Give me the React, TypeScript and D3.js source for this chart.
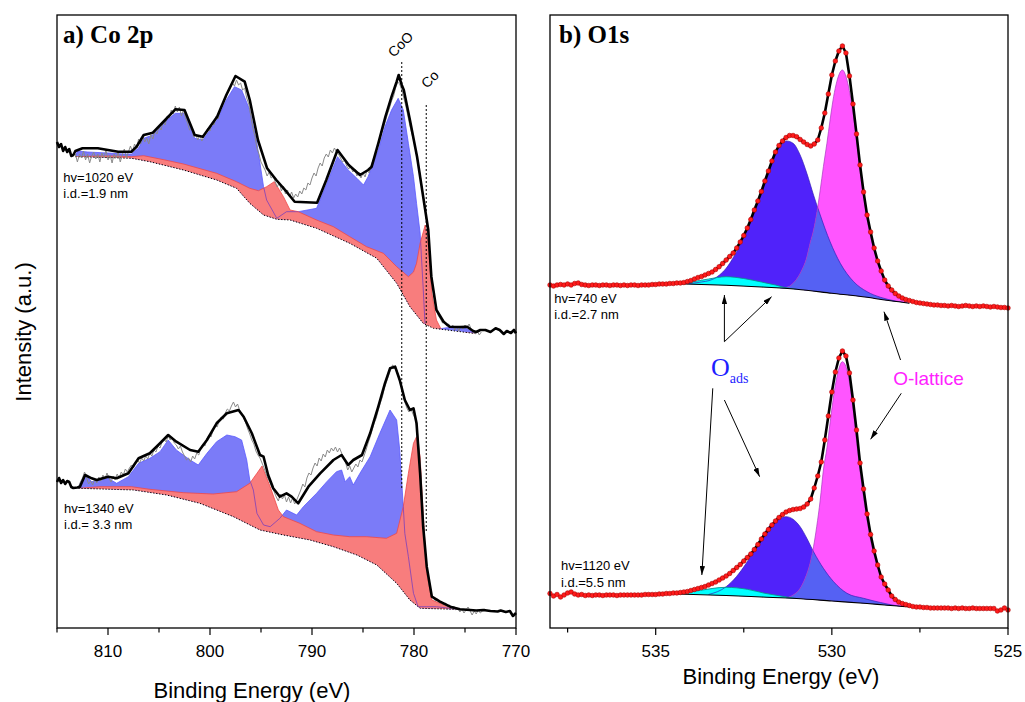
import React from 'react';
import * as d3 from 'd3';

type P = [number, number];

// ---------------- Co 2p (panel a) : [binding energy eV, intensity a.u.] ----------------
const CO_TOP_SMOOTH: P[] = [
  [815.0, 486], [814.8, 481], [814.6, 484], [814.4, 477], [814.2, 481], [814.0, 476], [813.8, 479], [813.6, 472], [813.4, 473], [813.2, 477],
  [812.5, 479.7], [811, 479.7], [810, 478], [809, 476.3], [807.7, 476.3], [807.2, 481.3], [806.5, 493], [805.6, 495.3], [804.4, 508], [803.4, 518.7],
  [802.5, 518], [801.5, 493], [800.7, 491.3], [799.3, 511.3], [798.4, 533], [797.5, 552], [796.6, 546.3], [796.1, 528], [795.3, 488], [794.4, 459.7],
  [793.5, 448], [792.5, 436.3], [791.7, 426.3], [789.5, 425.3], [788.6, 448], [787.5, 478], [786.4, 463], [785.3, 453], [784.5, 458], [784.15, 461.3],
  [783.5, 484.7], [782.8, 511.3], [782.2, 531.3], [781.7, 546.3], [781.5, 553], [781.2, 543], [781.0, 538], [780.4, 508], [779.7, 471.3], [779.1, 431.3],
  [778.6, 398], [778.3, 351.3], [777.8, 318], [777.1, 306.3], [776.5, 301.3], [775.5, 301], [774.8, 301.3], [774.2, 297], [773.9, 296], [773.5, 298],
  [773.0, 298], [772.5, 296], [772.0, 299.7], [771.6, 298], [771.2, 294], [770.9, 297], [770.5, 295], [770.2, 298], [770.0, 294.7],
];
const CO_TOP_RAW: P[] = [
  [813.2, 474], [813.0, 466], [812.8, 474], [812.6, 470], [812.4, 477], [812.2, 468], [812.0, 474], [811.8, 465], [811.6, 472], [811.4, 476],
  [811.2, 469], [811.0, 474], [810.8, 466], [810.6, 475], [810.4, 470], [810.2, 478], [810.0, 468], [809.8, 473], [809.6, 465], [809.4, 474],
  [809.2, 470], [809.0, 476], [808.8, 466], [808.6, 473], [808.4, 479], [808.2, 470], [808.0, 476], [807.8, 482], [807.6, 476], [807.4, 484],
  [807.2, 480], [807.0, 489], [806.8, 484], [806.6, 492], [806.4, 486], [806.2, 490], [806.0, 484], [805.8, 493], [805.6, 489], [805.4, 497],
  [805.2, 494], [805.0, 501], [804.8, 498], [804.6, 506], [804.4, 503], [804.2, 512], [804.0, 510], [803.8, 518], [803.6, 514], [803.4, 522],
  [803.2, 516], [803.0, 521], [802.8, 512], [802.6, 518], [802.4, 510], [802.2, 505], [802.0, 498], [801.8, 500], [801.6, 491], [801.4, 494],
  [801.2, 488], [801.0, 493], [800.8, 487], [800.6, 492], [800.4, 496], [800.2, 500], [800.0, 497], [799.8, 505], [799.6, 503], [799.4, 512],
  [799.2, 509], [799.0, 518], [798.8, 522], [798.6, 527], [798.4, 532], [798.2, 536], [798.0, 540], [797.8, 545], [797.6, 542], [797.4, 548],
  [797.2, 543], [797.0, 545], [796.8, 538], [796.6, 540], [796.4, 530], [796.2, 524], [796.0, 512], [795.8, 500], [795.6, 492], [795.4, 480],
  [795.2, 474], [795.0, 466], [794.8, 462], [794.6, 458], [794.4, 452], [794.2, 456], [794.0, 450], [793.8, 452], [793.6, 446], [793.4, 441],
  [793.2, 446], [793.0, 437], [792.8, 442], [792.6, 434], [792.4, 438], [792.2, 431], [792.0, 436], [791.8, 430], [791.6, 434], [791.4, 431],
  [791.2, 437], [791.0, 434], [790.8, 440], [790.6, 438], [790.4, 445], [790.2, 443], [790.0, 450], [789.8, 455], [789.6, 452], [789.4, 460],
  [789.2, 465], [789.0, 462], [788.8, 470], [788.6, 474], [788.4, 471], [788.2, 478], [788.0, 475], [787.8, 480], [787.6, 476], [787.4, 474],
  [787.2, 470], [787.0, 466], [786.8, 468], [786.6, 462], [786.4, 459], [786.2, 462], [786.0, 456], [785.8, 459], [785.6, 452], [785.4, 456],
  [785.2, 450], [785.0, 455], [784.8, 451], [784.6, 458], [784.4, 455], [784.2, 463], [784.0, 468], [783.8, 474], [783.6, 480], [783.4, 486],
  [783.2, 494], [783.0, 500], [782.8, 507], [782.6, 514], [782.4, 520], [782.2, 527], [782.0, 532], [781.8, 540], [781.6, 546], [781.4, 544],
  [781.2, 538], [781.0, 530], [780.8, 522], [780.6, 512], [780.4, 502], [780.0, 486], [779.6, 466], [779.2, 440], [778.8, 410], [778.4, 365],
  [778.2, 345], [778.0, 330], [777.8, 318], [777.6, 312], [777.4, 309], [777.2, 305], [777.0, 306], [776.8, 302], [776.6, 304], [776.4, 300],
  [776.2, 303], [776.0, 298], [775.8, 301], [775.6, 297], [775.4, 302], [775.2, 299], [775.0, 303], [774.8, 300], [774.6, 304], [774.4, 299],
  [774.2, 296], [774.0, 294], [773.8, 297], [773.6, 293], [773.4, 296],
];
const CO_TOP_COO: P[] = [
  [813.2, 472], [813.0, 477], [812.0, 476], [810.0, 475], [808.5, 474], [807.7, 474], [807.0, 480], [806.5, 489.7], [805.6, 493], [804.4, 506.3],
  [803.4, 514.7], [802.5, 514.7], [801.5, 489.7], [800.7, 488], [799.3, 508], [798.4, 528], [797.6, 541.3], [796.9, 538], [796.1, 518], [795.4, 484.7],
  [794.75, 441.3], [794.45, 428], [793.45, 409.7], [792.5, 416.3], [791.35, 416.3], [789.55, 419.7], [788.55, 444.7], [787.5, 471.3], [786.45, 458], [785.6, 449.7],
  [784.95, 443], [784.5, 451.3], [783.5, 478], [782.85, 501.3], [782.2, 518], [781.55, 529.7], [781.05, 518], [780.55, 484.7], [780.05, 451.3], [779.75, 424.7],
  [779.4, 395], [779.1, 340], [778.9, 300], [778.0, 298], [777.0, 300], [776.0, 301], [775.0, 300], [774.2, 296], [773.9, 295],
];
const CO_TOP_CO: P[] = [
  [813.2, 471.3], [811, 472], [809.5, 472], [807.7, 471.3], [806.5, 472.3], [804.4, 468], [802.6, 464], [799.35, 454.7], [797.4, 446.3], [796.1, 439.7],
  [795.25, 437.3], [794.45, 441.3], [793.7, 446.3], [792.8, 431.3], [792.15, 418], [791.35, 416.3], [789.55, 408], [787.9, 401.3], [786.3, 391.3], [784.65, 381.3],
  [783.0, 374.7], [781.7, 361.3], [780.55, 351.3], [780.05, 356], [779.75, 364.7], [779.4, 384.7], [778.9, 403], [778.6, 384.7], [778.25, 334.7], [777.8, 308],
  [777.3, 298], [776.45, 296.3], [774.2, 294.7], [773.9, 294.5],
];
const CO_TOP_BG: P[] = [
  [813.2, 471.3], [807.7, 469.7], [805.9, 466.3], [802.6, 458], [799.35, 448], [797.4, 439.7], [796.1, 424.7], [794.75, 413], [793.45, 408.7], [792.15, 408],
  [789.55, 399.7], [786.3, 384.7], [783.65, 369.7], [781.7, 344.7], [780.4, 321.3], [779.1, 304.7], [778.1, 299.7], [774.2, 294.7], [773.9, 294.5],
];

const CO_BOT_SMOOTH: P[] = [
  [815.0, 146], [814.8, 150], [814.6, 145], [814.4, 148], [814.2, 144], [814.0, 147], [813.8, 146], [813.6, 141], [813.4, 140], [813.0, 140.5],
  [812.75, 141.3], [812.25, 153], [811.6, 149.7], [811.1, 148], [810.0, 151.3], [809.15, 149.7], [808.0, 154.7], [807.0, 169.7], [805.9, 174.7], [804.9, 184.7],
  [804.1, 193], [803.3, 186.3], [801.95, 178], [801.15, 176.3], [800.3, 188], [799.35, 204.7], [798.35, 214.7], [797.2, 218], [796.7, 211.3], [795.9, 194.7],
  [795.1, 173], [794.75, 171.3], [794.3, 153], [793.8, 139.7], [793.15, 131.3], [792.5, 134.7], [792.0, 131.3], [791.35, 124.7], [790.35, 141.3], [789.2, 154.7],
  [787.9, 168], [787.1, 173], [786.45, 163], [785.95, 168], [785.1, 173], [784.3, 194.7], [783.5, 221.3], [782.85, 244.7], [782.35, 259.7], [781.85, 261.3],
  [781.4, 248], [780.9, 228], [780.4, 218], [780.05, 219.7], [779.75, 204.7], [779.4, 154.7], [779.1, 101.3], [778.75, 61.3], [778.25, 31.3], [777.45, 26.3],
  [776.45, 21.3], [775.5, 18.7], [774.5, 18], [773.9, 17.5], [773.2, 18], [772.5, 17], [771.8, 16.5], [771.5, 17.5], [771.0, 16], [770.6, 17],
  [770.3, 12], [770.0, 15],
];
const CO_BOT_RAW: P[] = [
  [812.9, 141], [812.7, 146], [812.5, 150], [812.3, 156], [812.1, 150], [811.9, 144], [811.7, 147], [811.5, 143], [811.3, 149], [811.1, 145],
  [810.9, 151], [810.7, 147], [810.5, 153], [810.3, 149], [810.1, 155], [809.9, 150], [809.7, 146], [809.5, 152], [809.3, 148], [809.1, 154],
  [808.9, 150], [808.7, 156], [808.5, 153], [808.3, 159], [808.1, 156], [807.9, 160], [807.7, 163], [807.5, 160], [807.3, 166], [807.1, 168],
  [806.9, 165], [806.7, 170], [806.5, 167], [806.3, 172], [806.1, 169], [805.9, 175], [805.7, 172], [805.5, 178], [805.3, 176], [805.1, 182],
  [804.9, 180], [804.7, 186], [804.5, 189], [804.3, 186], [804.1, 192], [803.9, 188], [803.7, 191], [803.5, 185], [803.3, 183], [803.1, 179],
  [802.9, 182], [802.7, 176], [802.5, 172], [802.3, 168], [802.1, 170], [801.9, 166], [801.7, 172], [801.5, 169], [801.3, 175], [801.1, 173],
  [800.9, 180], [800.7, 184], [800.5, 182], [800.3, 189], [800.1, 193], [799.9, 191], [799.7, 198], [799.5, 203], [799.3, 201], [799.1, 207],
  [798.9, 211], [798.7, 209], [798.5, 215], [798.3, 219], [798.1, 217], [797.9, 222], [797.7, 226], [797.5, 221], [797.3, 224], [797.1, 218],
  [796.9, 214], [796.7, 210], [796.5, 205], [796.3, 199], [796.1, 194], [795.9, 188], [795.7, 184], [795.5, 177], [795.3, 173], [795.1, 170],
  [794.9, 165], [794.7, 160], [794.5, 154], [794.3, 149], [794.1, 145], [793.9, 140], [793.7, 136], [793.5, 131], [793.3, 127], [793.1, 134],
  [792.9, 129], [792.7, 133], [792.5, 126], [792.3, 131], [792.1, 125], [791.9, 130], [791.7, 124], [791.5, 128], [791.3, 133], [791.1, 138],
  [790.9, 144], [790.7, 141], [790.5, 150], [790.3, 155], [790.1, 153], [789.9, 160], [789.7, 165], [789.5, 162], [789.3, 170], [789.1, 167],
  [788.9, 174], [788.7, 171], [788.5, 178], [788.3, 175], [788.1, 180], [787.9, 177], [787.7, 181], [787.5, 176], [787.3, 180], [787.1, 175],
  [786.9, 170], [786.7, 165], [786.5, 158], [786.3, 162], [786.1, 156], [785.9, 160], [785.7, 164], [785.5, 161], [785.3, 168], [785.1, 166],
  [784.9, 172], [784.7, 178], [784.5, 185], [784.3, 191], [784.1, 198], [783.9, 205], [783.7, 210], [783.5, 218], [783.3, 225], [783.1, 231],
  [782.9, 240], [782.7, 246], [782.5, 252], [782.3, 258], [782.1, 263], [781.9, 261], [781.7, 258], [781.5, 250], [781.3, 243], [781.1, 236],
  [780.9, 226], [780.7, 220], [780.5, 216], [780.3, 219], [780.1, 214], [779.9, 210], [779.7, 200], [779.5, 178], [779.3, 148], [779.1, 105],
  [778.9, 78], [778.7, 56], [778.5, 42], [778.3, 33], [778.1, 30], [777.9, 27], [777.7, 29], [777.5, 25], [777.3, 26], [777.1, 23],
  [776.9, 25], [776.7, 21], [776.5, 23], [776.3, 19], [776.1, 22], [775.9, 18], [775.7, 20], [775.5, 16], [775.3, 19], [775.1, 15],
  [774.9, 18], [774.7, 21], [774.5, 17], [774.3, 13], [774.1, 17], [773.9, 14], [773.7, 18], [773.5, 15], [773.3, 17], [773.1, 19],
];
const CO_BOT_COO: P[] = [
  [812.9, 141.3], [812.25, 153], [811.6, 146.3], [810.0, 149.7], [809.15, 144.7], [808.0, 151.3], [807.0, 164.7], [805.9, 169.7], [804.9, 176.3], [804.1, 188],
  [803.3, 178], [801.95, 168], [801.15, 163], [800.3, 174.7], [799.35, 186.3], [798.35, 193], [797.55, 191.3], [796.9, 188], [796.4, 168], [796.1, 148],
  [795.75, 138], [795.4, 114.7], [794.75, 103], [794.1, 101.3], [793.15, 109.7], [792.5, 118], [791.5, 113], [790.85, 121.3], [789.55, 134.7], [788.55, 146.3],
  [787.6, 156.3], [787.1, 158], [786.75, 146.3], [786.3, 151.3], [785.95, 143], [785.3, 154.7], [784.3, 171.3], [783.35, 194.7], [782.35, 218], [781.7, 208],
  [781.4, 178], [781.05, 121.3], [780.9, 94.7], [780.55, 71.3], [780.05, 34.7], [779.6, 21.3], [778.75, 21.3], [777.8, 21.3], [776.5, 19.7], [775.5, 18.7],
];
const CO_BOT_CO: P[] = [
  [812.9, 139.7], [810.8, 141.3], [807.7, 141.3], [805.9, 138.7], [802.6, 135.3], [799.7, 134], [797.4, 136.3], [796.1, 144.7], [795.4, 154.7], [794.9, 162],
  [794.1, 141.3], [793.3, 118], [792.8, 111.3], [791.2, 104.7], [789.55, 96.3], [787.9, 93], [786.3, 91.3], [784.65, 91.3], [782.7, 89.7], [781.7, 94.7],
  [781.05, 121.3], [780.55, 154.7], [780.05, 184.7], [779.75, 191.3], [779.4, 171.3], [779.1, 114.7], [778.75, 54.7], [778.25, 28], [777.45, 24.7], [776.45, 21.3],
  [775.5, 18.7],
];
const CO_BOT_BG: P[] = [
  [812.9, 139.7], [807.5, 138], [804.25, 133], [801.0, 124.7], [797.7, 111.3], [795.1, 98], [792.8, 93], [790.2, 88], [787.9, 81.3], [785.6, 73],
  [783.65, 63], [781.7, 44.7], [780.4, 28], [779.4, 19.7], [775.5, 18.5],
];

// reference lines for CoO / Co
const CO_REFS = [
  { name: 'CoO', energy: 781.2, top: 566, bottom: 138, labelE: 781.98, labelI: 570 },
  { name: 'Co', energy: 778.8, top: 523, bottom: 96, labelE: 778.72, labelI: 539 },
];
const CO_NOTES = [
  { e: 814.38, i: 446.3, lines: ['hv=1020 eV', 'i.d.=1.9 nm'] },
  { e: 814.31, i: 115.3, lines: ['hv=1340 eV', 'i.d.= 3.3 nm'] },
];
const CO_MAJOR = [810, 800, 790, 780, 770];
const CO_MINOR = [815, 805, 795, 785, 775];

// ---------------- O 1s (panel b) ----------------
const O_E_START = 538.0;
const O_E_STEP = 0.1;
const O_TOP_INT = [
  343, 342, 343, 343.5, 343, 344, 343, 344.5, 345, 343.5,
  343, 342.5, 343, 343, 342.5, 343, 343, 342.5, 343, 343,
  342.5, 343, 342.5, 343, 343, 342.5, 343, 343, 343, 343.5,
  343.5, 344, 344, 344, 344.5, 344.5, 345, 345, 345.5, 346.5,
  347.5, 349, 350.5, 351.5, 353, 354.5, 356, 358.5, 361.3, 364.5,
  368, 371.5, 375, 380, 386, 392.5, 400, 408.5, 418, 427,
  436.5, 447, 457, 467, 476, 482.5, 487, 490.5, 492.5, 492.5,
  491.3, 488.5, 486, 483.5, 482, 484, 488, 500, 515, 534,
  553, 567, 577, 582, 575, 552, 524, 494, 463, 436,
  413, 396, 380, 367, 357, 348, 342, 338, 334.5, 332,
  330, 328.5, 327.5, 326.5, 325.5, 325, 324.5, 324, 323.5, 323,
  323, 322.5, 322.5, 322, 322.5, 322, 321.5, 322, 322.5, 322,
  321.5, 322, 321.5, 322, 321.5, 321, 321.5, 321, 320.5, 320.5,
  320,
];
const O_BOT_INT = [
  34.5, 32, 33.5, 31, 33, 35, 36, 34, 33, 33.5,
  32.5, 33, 32.5, 33, 33, 32.5, 33, 33, 33, 32.5,
  33, 33, 33, 33, 33, 33, 33, 33.5, 33.5, 33.5,
  33.5, 34, 34, 34.5, 34.5, 35, 35, 35.5, 36, 36.5,
  37.5, 38.5, 39.5, 40.5, 41.5, 43, 44.5, 46, 48, 50,
  52, 54.5, 57.5, 60.5, 63.5, 67, 70.5, 74, 78.5, 83.5,
  89, 94, 98.5, 103, 107, 110.5, 113.5, 116, 117.5, 118.5,
  119, 119.5, 121, 124, 129, 140, 152, 166, 188, 212,
  236, 256, 270, 277, 272, 255, 228, 198, 165, 139,
  114, 93.5, 77, 63, 51, 44, 38, 32, 28.5, 26,
  24.5, 23.5, 22.5, 21.5, 21, 21, 20.5, 20.5, 20, 20,
  20, 20, 20, 20, 19.5, 20, 19.5, 20, 19.5, 19.5,
  20, 19.5, 19.5, 19.5, 19.5, 19.5, 19.5, 17, 18, 20,
  18,
];
const O_TOP_BG: P[] = [[534.4, 344.3], [533.0, 342.7], [532.0, 341], [531.0, 338.7], [530.0, 334.7], [529.0, 330.7], [528.5, 328], [528.0, 325.7], [527.8, 324.7]];
const O_TOP_C: P[] = [[534.4, 344.3], [534.0, 346], [533.5, 349], [533.0, 351.3], [532.5, 349.5], [532.0, 346], [531.6, 343], [531.2, 339.5], [531.0, 338.7]];
const O_TOP_B: P[] = [
  [534.2, 344], [533.8, 345.5], [533.38, 348.7], [533.19, 353], [533.0, 359.7], [532.81, 369.7], [532.62, 382], [532.43, 396.3], [532.24, 413], [532.05, 431.3],
  [531.86, 449.7], [531.67, 468], [531.48, 481.3], [531.29, 487], [531.1, 484.7], [530.9, 473], [530.71, 454.7], [530.52, 433], [530.33, 413], [530.05, 386.3],
  [529.76, 364.7], [529.38, 346.3], [529.0, 336.3], [528.62, 330.7], [528.2, 327], [527.8, 324.7],
];
const O_TOP_M: P[] = [
  [531.6, 339.5], [531.29, 340.7], [531.1, 344.7], [530.9, 354.7], [530.71, 371.3], [530.62, 384.7], [530.52, 398], [530.43, 414.7], [530.33, 438], [530.24, 461.3],
  [530.14, 484.7], [530.05, 508], [529.95, 531.3], [529.86, 546.3], [529.7, 558], [529.57, 548], [529.48, 533], [529.38, 511.3], [529.29, 486.3], [529.19, 458],
  [529.1, 434], [529.0, 409], [528.86, 386], [528.71, 368], [528.52, 349], [528.33, 338], [528.05, 329.5], [527.86, 325.5],
];
const O_BOT_BG: P[] = [[534.4, 34], [533.0, 32.5], [532.0, 31], [531.0, 29.5], [530.0, 27], [529.0, 24.5], [528.5, 23], [528.0, 21.5], [527.7, 21]];
const O_BOT_C: P[] = [[534.4, 34], [533.8, 37.3], [533.0, 40.7], [532.4, 38.7], [531.9, 34.7], [531.5, 32.3], [531.2, 30.5], [531.0, 29.5]];
const O_BOT_B: P[] = [
  [533.5, 33.5], [533.0, 41.3], [532.71, 51.3], [532.43, 64.7], [532.14, 81.3], [531.86, 98], [531.57, 108], [531.3, 111.3], [531.1, 108.7], [530.9, 101.3],
  [530.71, 89.7], [530.52, 76.3], [530.24, 59.7], [529.95, 46.3], [529.57, 34.7], [529.1, 29.7], [528.62, 25.5], [528.0, 21.5], [527.7, 21],
];
const O_BOT_M: P[] = [
  [531.3, 30], [531.1, 33], [530.9, 39.7], [530.76, 49.7], [530.62, 64.7], [530.52, 81.3], [530.43, 101.3], [530.33, 128], [530.24, 158], [530.14, 180],
  [530.05, 205], [529.95, 232], [529.85, 252], [529.7, 266.3], [529.57, 258], [529.48, 241.3], [529.38, 214.7], [529.29, 184.7], [529.19, 154.7], [529.1, 131.3],
  [529.0, 108], [528.9, 88], [528.76, 68], [528.62, 53], [528.43, 39.7], [528.24, 29.7], [527.95, 23], [527.7, 21],
];
const O_ARROWS: { from: P; to: P }[] = [
  { from: [533.05, 286.3], to: [533.05, 333] },
  { from: [533.05, 286.3], to: [531.71, 331.3] },
  { from: [528.05, 268], to: [528.52, 316.3] },
  { from: [533.38, 239.7], to: [533.69, 53] },
  { from: [533.05, 228], to: [532.05, 151.3] },
  { from: [528.03, 234.7], to: [528.9, 188.7] },
];
const O_NOTES = [
  { e: 537.88, i: 325.5, lines: ['hv=740 eV', 'i.d.=2.7 nm'] },
  { e: 537.69, i: 58, lines: ['hv=1120 eV', 'i.d.=5.5 nm'] },
];
const O_MAJOR = [535, 530, 525];
const O_MINOR = [537.5, 532.5, 527.5];

// ---------------- layout ----------------
const W = 1025, H = 702;
const PA = { l: 57, r: 516, t: 15, b: 628 };
const PB = { l: 550, r: 1008, t: 15, b: 628 };
const xA = d3.scaleLinear().domain([815, 770]).range([PA.l, PA.r]);
const yA = d3.scaleLinear().domain([0, 613]).range([PA.b, PA.t]);
const xB = d3.scaleLinear().domain([538, 525]).range([PB.l, PB.r]);
const yB = d3.scaleLinear().domain([0, 613]).range([PB.b, PB.t]);

const SANS = '"Liberation Sans", Arial, Helvetica, sans-serif';
const SERIF = '"Liberation Serif", "Times New Roman", Times, serif';

type Sc = d3.ScaleLinear<number, number>;
const mkLine = (x: Sc, y: Sc, curve: d3.CurveFactory = d3.curveLinear) => (d: P[]) =>
  d3.line<P>().x(p => x(p[0])).y(p => y(p[1])).curve(curve)(d) || '';
const mkAreaDown = (x: Sc, y: Sc, bottom: number, curve: d3.CurveFactory = d3.curveLinear) => (d: P[]) =>
  d3.area<P>().x(p => x(p[0])).y0(bottom).y1(p => y(p[1])).curve(curve)(d) || '';
const mkAreaUp = (x: Sc, y: Sc, top: number, curve: d3.CurveFactory = d3.curveLinear) => (d: P[]) =>
  d3.area<P>().x(p => x(p[0])).y0(p => y(p[1])).y1(top).curve(curve)(d) || '';

function CoSpectrum({ id, raw, smooth, coo, co, bg }: { id: string; raw: P[]; smooth: P[]; coo: P[]; co: P[]; bg: P[] }) {
  const line = mkLine(xA, yA);
  const down = mkAreaDown(xA, yA, PA.b);
  const up = mkAreaUp(xA, yA, PA.t);
  return (
    <g>
      <defs>
        <clipPath id={`${id}-above`}><path d={up(bg)} /></clipPath>
        <clipPath id={`${id}-co`}><path d={down(co)} /></clipPath>
      </defs>
      <g clipPath={`url(#${id}-above)`}>
        <path d={down(coo)} fill="#7b7bf8" />
        <path d={line(coo)} fill="none" stroke="#5a5aff" strokeWidth={0.8} />
        <path d={down(co)} fill="#f87d7d" />
        <path d={line(co)} fill="none" stroke="#f04848" strokeWidth={0.8} />
        <g clipPath={`url(#${id}-co)`}>
          <path d={line(coo)} fill="none" stroke="#8a46b4" strokeWidth={0.9} />
        </g>
      </g>
      <path d={line(bg)} fill="none" stroke="#000" strokeWidth={1} strokeDasharray="1.3,1.7" />
      <path d={line(raw)} fill="none" stroke="#8a8a8a" strokeWidth={1} />
      <path d={line(smooth)} fill="none" stroke="#000" strokeWidth={2.6} strokeLinejoin="round" />
    </g>
  );
}

function OSpectrum({ id, ints, bg, c, b, m }: { id: string; ints: number[]; bg: P[]; c: P[]; b: P[]; m: P[] }) {
  const curve = d3.curveMonotoneX;
  const line = mkLine(xB, yB, curve);
  const down = mkAreaDown(xB, yB, PB.b, curve);
  const up = mkAreaUp(xB, yB, PB.t, curve);
  const pts: P[] = ints.map((v, i) => [+(O_E_START - i * O_E_STEP).toFixed(2), v]);
  const env = pts.filter(p => p[0] <= 533.7 && p[0] >= 527.9);
  return (
    <g>
      <defs>
        <clipPath id={`${id}-above`}><path d={up(bg)} /></clipPath>
        <clipPath id={`${id}-m`}><path d={down(m)} /></clipPath>
      </defs>
      <g clipPath={`url(#${id}-above)`}>
        <path d={down(b)} fill="#5022fa" />
        <path d={down(m)} fill="#ff55ff" />
        <g clipPath={`url(#${id}-m)`}>
          <path d={down(b)} fill="#5561f3" />
        </g>
        <path d={down(c)} fill="#00ffff" />
        <path d={line(b)} fill="none" stroke="#3520b8" strokeWidth={0.7} />
        <path d={line(m)} fill="none" stroke="#a838c0" strokeWidth={0.7} />
        <path d={line(c)} fill="none" stroke="#0b8f8f" strokeWidth={0.9} />
      </g>
      <path d={line(bg)} fill="none" stroke="#000" strokeWidth={1.1} />
      <path d={mkLine(xB, yB)(env)} fill="none" stroke="#000" strokeWidth={2.6} strokeLinejoin="round" />
      {pts.map((p, i) => (
        <circle key={i} cx={xB(p[0])} cy={yB(p[1])} r={2.3} fill="#ff1c1c" stroke="#b00000" strokeWidth={0.6} />
      ))}
    </g>
  );
}

function Frame({ p, x, major, minor }: { p: typeof PA; x: Sc; major: number[]; minor: number[] }) {
  return (
    <g>
      <rect x={p.l} y={p.t} width={p.r - p.l} height={p.b - p.t} fill="none" stroke="#000" strokeWidth={1.3} />
      {major.map(v => (
        <g key={'M' + v}>
          <line x1={x(v)} x2={x(v)} y1={p.b} y2={p.b + 7} stroke="#000" strokeWidth={1.2} />
          <text x={x(v)} y={p.b + 29} textAnchor="middle" fontFamily={SANS} fontSize={17} fill="#000">{v}</text>
        </g>
      ))}
      {minor.map(v => (
        <line key={'m' + v} x1={x(v)} x2={x(v)} y1={p.b} y2={p.b + 4.5} stroke="#000" strokeWidth={1.2} />
      ))}
    </g>
  );
}

function Notes({ notes, x, y }: { notes: { e: number; i: number; lines: string[] }[]; x: Sc; y: Sc }) {
  return (
    <g>
      {notes.map((n, k) => (
        <text key={k} fontFamily={SANS} fontSize={13} fill="#000">
          {n.lines.map((t, j) => (
            <tspan key={j} x={x(n.e)} y={y(n.i) + j * 16.6}>{t}</tspan>
          ))}
        </text>
      ))}
    </g>
  );
}

export default function App() {
  return (
    <div style={{ position: 'absolute', left: 0, top: 0, width: W, height: H, background: '#fff' }}>
      <svg width={W} height={H} viewBox={`0 0 ${W} ${H}`} style={{ display: 'block' }}>
        <defs>
          <marker id="arrowHead" viewBox="0 0 10 6" refX={10} refY={3} markerWidth={9} markerHeight={5.4} markerUnits="userSpaceOnUse" orient="auto">
            <path d="M0,0 L10,3 L0,6 z" fill="#000" />
          </marker>
        </defs>
        <rect x={0} y={0} width={W} height={H} fill="#fff" />

        {/* ---------- panel a ---------- */}
        <CoSpectrum id="coTop" raw={CO_TOP_RAW} smooth={CO_TOP_SMOOTH} coo={CO_TOP_COO} co={CO_TOP_CO} bg={CO_TOP_BG} />
        <CoSpectrum id="coBot" raw={CO_BOT_RAW} smooth={CO_BOT_SMOOTH} coo={CO_BOT_COO} co={CO_BOT_CO} bg={CO_BOT_BG} />
        {CO_REFS.map(r => (
          <g key={r.name}>
            <line x1={xA(r.energy)} x2={xA(r.energy)} y1={yA(r.top)} y2={yA(r.bottom)} stroke="#000" strokeWidth={1} strokeDasharray="2,2" />
            <text transform={`translate(${xA(r.labelE)},${yA(r.labelI)}) rotate(-45)`} fontFamily={SANS} fontSize={14} fill="#000">{r.name}</text>
          </g>
        ))}
        <Notes notes={CO_NOTES} x={xA} y={yA} />
        <Frame p={PA} x={xA} major={CO_MAJOR} minor={CO_MINOR} />
        <text x={63} y={43} fontFamily={SERIF} fontWeight="bold" fontSize={25} fill="#000">a) Co 2p</text>

        {/* ---------- panel b ---------- */}
        <OSpectrum id="oTop" ints={O_TOP_INT} bg={O_TOP_BG} c={O_TOP_C} b={O_TOP_B} m={O_TOP_M} />
        <OSpectrum id="oBot" ints={O_BOT_INT} bg={O_BOT_BG} c={O_BOT_C} b={O_BOT_B} m={O_BOT_M} />
        {O_ARROWS.map((a, k) => (
          <line key={k} x1={xB(a.from[0])} y1={yB(a.from[1])} x2={xB(a.to[0])} y2={yB(a.to[1])} stroke="#000" strokeWidth={1} markerEnd="url(#arrowHead)" />
        ))}
        <text x={xB(533.43)} y={yB(252.5)} fontFamily={SERIF} fill="#1e1eff">
          <tspan fontSize={26}>O</tspan>
          <tspan fontSize={14} dy={7.5}>ads</tspan>
        </text>
        <text x={xB(528.26)} y={yB(243)} fontFamily={SANS} fontSize={19} fill="#ff22ff">O-lattice</text>
        <Notes notes={O_NOTES} x={xB} y={yB} />
        <Frame p={PB} x={xB} major={O_MAJOR} minor={O_MINOR} />
        <text x={559} y={43} fontFamily={SERIF} fontWeight="bold" fontSize={25} fill="#000">b) O1s</text>

        {/* ---------- axis titles ---------- */}
        <text x={252} y={698} textAnchor="middle" fontFamily={SANS} fontSize={22} fill="#000">Binding Energy (eV)</text>
        <text x={781} y={684} textAnchor="middle" fontFamily={SANS} fontSize={22} fill="#000">Binding Energy (eV)</text>
        <text transform="translate(31,332) rotate(-90)" textAnchor="middle" fontFamily={SANS} fontSize={22} fill="#000">Intensity (a.u.)</text>
      </svg>
    </div>
  );
}
